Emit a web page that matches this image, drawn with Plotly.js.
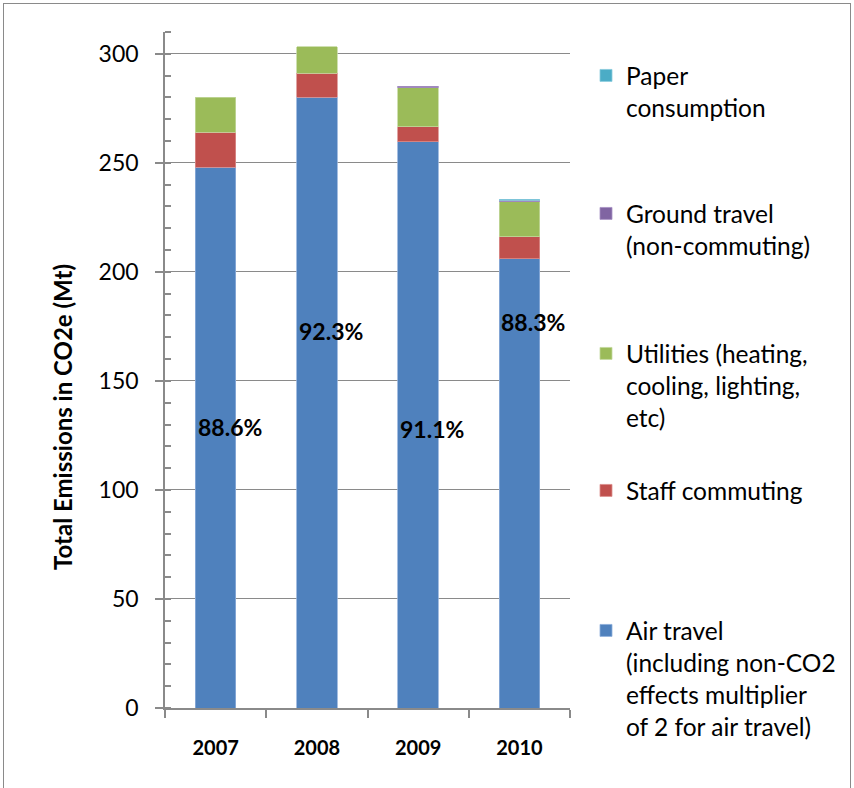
<!DOCTYPE html>
<html>
<head>
<meta charset="utf-8">
<script src="https://cdn.plot.ly/plotly-3.0.1.min.js"></script>
<style>
  html, body { margin: 0; padding: 0; background: #fff; }
  #wrap { position: relative; width: 854px; height: 788px; overflow: hidden; }
  #chart { width: 854px; height: 788px; }
  #frame { position: absolute; left: 3px; top: 3px; width: 848px; height: 800px;
           border: 1.5px solid #8a8a8a; pointer-events: none; box-sizing: border-box; }
  #dbg { position: absolute; left: 10px; top: 10px; font: 12px monospace; color: red; white-space: pre; }
</style>
</head>
<body>
<div id="wrap">
  <div id="chart"></div>
  <div id="frame"></div>
  <div id="dbg"></div>
</div>
<script>
// ---- data ----
const years = ['2007', '2008', '2009', '2010'];
const airTravel = [248, 280, 259.7, 206];
const staffCommuting = [16, 11, 6.8, 10];
const utilities = [16, 12.3, 17.9, 16.2];
const groundTravel = [null, null, 0.7, 0.7];
const paperConsumption = [null, null, null, 0.5];
const pctLabels = ['88.6%', '92.3%', '91.1%', '88.3%'];
const yTitle = 'Total Emissions in CO2e (Mt)';

const seriesNames = [
  'Air travel<br>(including non-CO2<br>effects multiplier<br>of 2 for air travel)',
  'Staff commuting',
  'Utilities (heating,<br>cooling, lighting,<br>etc)',
  'Ground travel<br>(non-commuting)',
  'Paper<br>consumption'
];
const seriesValues = [airTravel, staffCommuting, utilities, groundTravel, paperConsumption];
const colors = ['#4F81BD', '#C0504D', '#9BBB59', '#8064A2', '#4BACC6'];
const edgeColors = ['#8EAEDA', '#DA8F8D', '#C3D89E', '#A792C4', '#8ACCDD'];

const FONT = 'Lato, "Open Sans", sans-serif';
const legendIds = ['legend5', 'legend4', 'legend3', 'legend2', 'legend'];
const legendTops = [608, 468, 331, 191, 53];   // pixel tops of each legend block
const dbg = document.getElementById('dbg');

try {
  const traces = seriesValues.map((vals, i) => ({
    type: 'bar',
    name: seriesNames[i],
    x: years,
    y: vals,
    width: 0.4,
    marker: { color: colors[i], line: { color: edgeColors[i], width: 0.8 } },
    legend: legendIds[i]
  }));

  const plotTop = 32, plotBottom = 708, plotH = plotBottom - plotTop, plotL = 165, plotW = 405;
  const layout = {
    width: 854, height: 788,
    margin: { l: 165, r: 284, t: 32, b: 80 },
    paper_bgcolor: '#fff', plot_bgcolor: '#fff',
    barmode: 'stack',
    font: { family: FONT, color: '#000' },
    showlegend: true,
    xaxis: {
      type: 'category',
      autorange: false, range: [-0.5, 3.5],
      showline: true, linecolor: '#8a8a8a', linewidth: 1.5,
      ticks: 'outside', tickson: 'boundaries', ticklen: 8, tickcolor: '#8a8a8a', tickwidth: 1.5,
      tickfont: { family: FONT, size: 20, color: '#000', weight: 'bold' },
      tickangle: 0,
      ticklabelstandoff: 21,
      showgrid: false, zeroline: false
    },
    yaxis: {
      autorange: false, range: [0, 310],
      dtick: 50, tick0: 0,
      showline: true, linecolor: '#8a8a8a', linewidth: 1.5,
      ticks: 'outside', ticklen: 8, tickcolor: '#8a8a8a', tickwidth: 1.5,
      minor: { dtick: 10, ticks: 'inside', ticklen: 6, tickcolor: '#8a8a8a', tickwidth: 1.5, showgrid: false },
      tickfont: { family: FONT, size: 23, color: '#000' },
      ticklabelstandoff: 12,
      showgrid: true, gridcolor: '#8a8a8a', gridwidth: 1.3,
      zeroline: false,
      automargin: false
    },
    annotations: [{
      xref: 'paper', yref: 'paper',
      x: (62 - plotL) / plotW, y: (plotBottom - 417) / plotH,
      xanchor: 'center', yanchor: 'middle', textangle: -90,
      text: '<b>' + yTitle + '</b>', showarrow: false,
      font: { family: FONT, size: 24, color: '#000' }
    }]
  };

  legendIds.forEach((id, i) => {
    layout[id] = {
      x: (586 - plotL) / plotW, xanchor: 'left',
      y: (plotBottom - legendTops[i]) / plotH, yanchor: 'top',
      bgcolor: 'rgba(0,0,0,0)', borderwidth: 0,
      font: { family: FONT, size: 24.5, color: '#000' },
      valign: 'top'
    };
  });

  const labelYPos = [129, 172.7, 128, 176.9];
  years.forEach((yr, i) => {
    layout.annotations.push({
      x: i, y: labelYPos[i], xref: 'x', yref: 'y',
      xanchor: 'left', yanchor: 'middle', xshift: -20,
      text: '<b>' + pctLabels[i] + '</b>', showarrow: false,
      font: { family: FONT, size: 23, color: '#000' }
    });
  });

  Plotly.newPlot('chart', traces, layout, { displayModeBar: false }).catch(e => { dbg.textContent = 'ERR ' + e; });
} catch (e) { dbg.textContent = 'ERR ' + e + '\n' + e.stack; }
</script>
</body>
</html>
